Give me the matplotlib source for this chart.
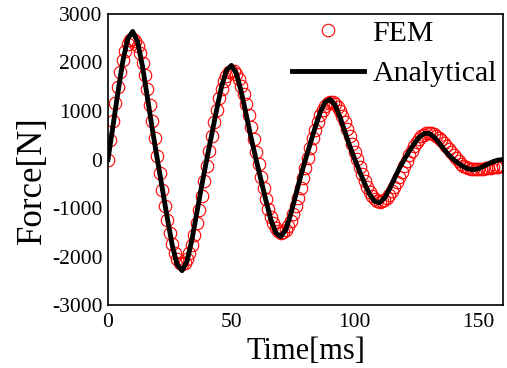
import matplotlib
matplotlib.use("Agg")
import matplotlib.pyplot as plt

plt.rcParams['font.family'] = ['Liberation Serif', 'DejaVu Serif']
plt.rcParams['axes.unicode_minus'] = False

# Analytical solution (time in ms, force in N)
t_analytical = list(range(0, 161, 2))
force_analytical = [
    0, 683, 1375, 2021, 2489, 2640, 2424, 1916, 1270, 614,
    0, -597, -1200, -1760, -2163, -2290, -2098, -1655, -1094, -528,
    0, 511, 1024, 1499, 1838, 1940, 1773, 1394, 919, 442,
    0, -425, -849, -1238, -1512, -1590, -1447, -1133, -744, -356,
    0, 339, 674, 977, 1186, 1240, 1121, 872, 569, 270,
    0, -253, -498, -716, -861, -890, -796, -611, -393, -184,
    0, 167, 323, 455, 535, 540, 470, 350, 218, 98,
    0, -81, -148, -194, -209, -190, -144, -89, -43, -12,
    0,
]

# FEM result (one sample per ms)
t_fem = list(range(0, 161))
force_fem = [
    0, 406, 798, 1166, 1501, 1796, 2044, 2240, 2379, 2460,
    2480, 2440, 2342, 2189, 1985, 1736, 1449, 1131, 790, 434,
    73, -285, -631, -958, -1256, -1520, -1745, -1923, -2053, -2131,
    -2158, -2131, -2054, -1929, -1759, -1549, -1305, -1034, -742, -437,
    -126, 184, 483, 767, 1027, 1258, 1456, 1614, 1732, 1805,
    1834, 1819, 1759, 1659, 1520, 1347, 1145, 919, 675, 419,
    158, -102, -354, -594, -814, -1010, -1178, -1315, -1417, -1482,
    -1511, -1502, -1458, -1379, -1269, -1131, -968, -786, -589, -382,
    -170, 40, 245, 439, 617, 777, 913, 1024, 1108, 1163,
    1188, 1184, 1151, 1092, 1007, 901, 776, 635, 484, 325,
    163, 2, -155, -302, -438, -558, -661, -745, -807, -848,
    -867, -864, -840, -796, -735, -658, -568, -468, -360, -248,
    -135, -23, 84, 184, 276, 356, 423, 476, 515, 539,
    548, 543, 525, 494, 453, 403, 346, 284, 219, 153,
    87, 25, -33, -86, -125, -155, -175, -188, -195, -197,
    -196, -192, -186, -180, -173, -166, -159, -152, -146, -140,
    -135,
]

x_ticks = [0, 50, 100, 150]
y_ticks = [-3000, -2000, -1000, 0, 1000, 2000, 3000]

fig = plt.figure(figsize=(5.07, 3.68), dpi=100)
ax = fig.add_axes([0.213, 0.171, 0.779, 0.791])

ax.plot(t_fem, force_fem, linestyle='none', marker='o', markersize=9,
        markerfacecolor='none', markeredgecolor='#ff0000', markeredgewidth=0.8,
        label='FEM', zorder=2)
ax.plot(t_analytical, force_analytical, color='black', linewidth=3.5,
        label='Analytical', zorder=3)

ax.set_xlim(0, 160)
ax.set_ylim(-3000, 3000)
ax.set_xticks(x_ticks)
ax.set_yticks(y_ticks)
ax.tick_params(axis='both', length=0, labelsize=15.5)
ax.tick_params(axis='x', pad=6)
ax.tick_params(axis='y', pad=4)
for s in ax.spines.values():
    s.set_linewidth(1.2)

ax.set_xlabel('Time[ms]', fontsize=22, labelpad=3)
ax.set_ylabel('Force[N]', fontsize=25)
ax.yaxis.set_label_coords(-0.15, 0.43)

leg = ax.legend(loc='upper right', frameon=False, fontsize=21.5, numpoints=1,
                handlelength=2.4, handletextpad=0.3, labelspacing=0.45,
                borderaxespad=0.1, borderpad=0.1)

fig.savefig('out.png', dpi=100)
